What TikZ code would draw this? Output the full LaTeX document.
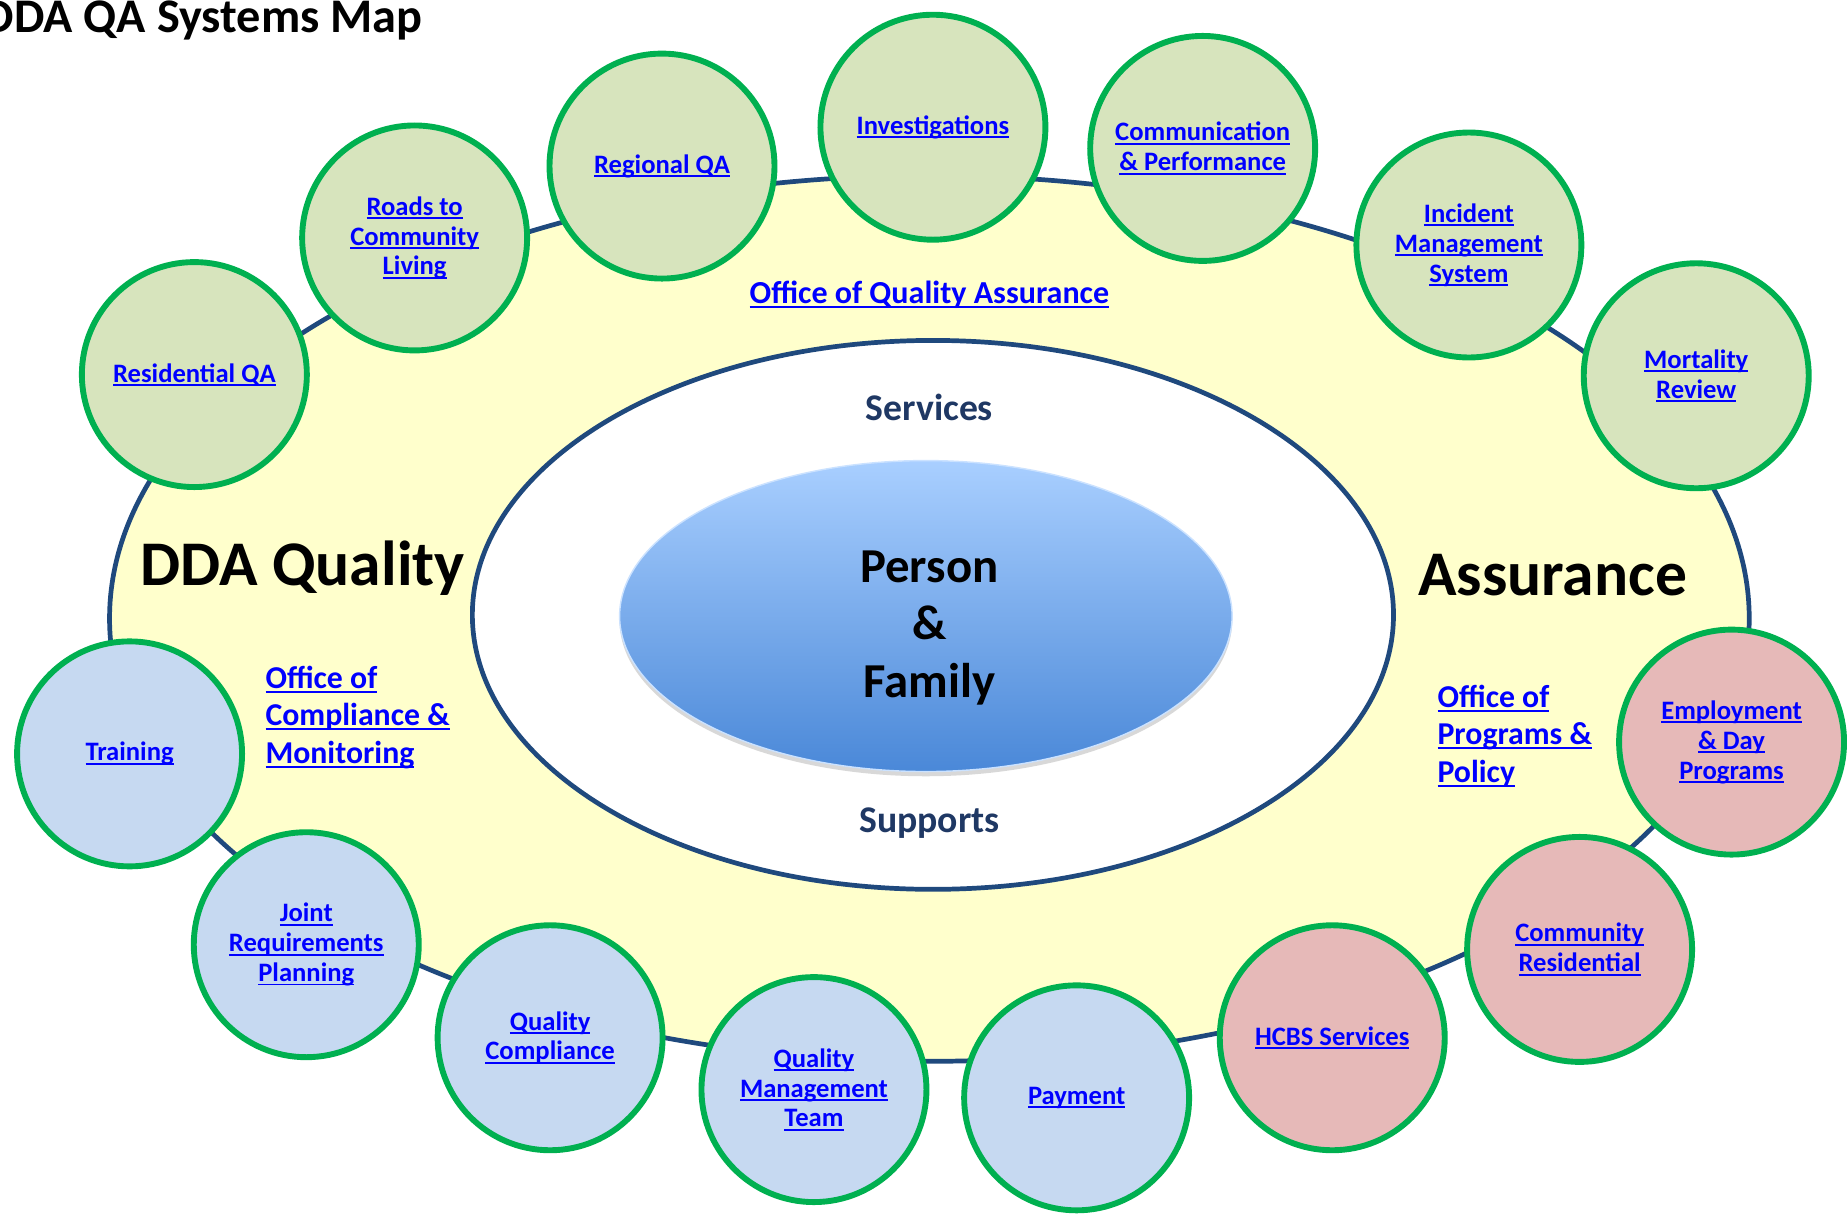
\documentclass[tikz,border=0pt]{standalone}
\usepackage{fontspec}
\setmainfont{Carlito}
\usetikzlibrary{shapes.geometric,shadows}
\definecolor{qyel}{HTML}{FFFFCC}
\definecolor{qnavy}{HTML}{1F497D}
\definecolor{qgreen}{HTML}{00B050}
\definecolor{qgfill}{HTML}{D7E4BD}
\definecolor{qpfill}{HTML}{E6B9B8}
\definecolor{qbfill}{HTML}{C6D9F1}
\definecolor{qlink}{HTML}{0000FF}
\definecolor{qdark}{HTML}{1F3864}
\definecolor{qtop}{HTML}{A9CFFF}
\definecolor{qbot}{HTML}{4A88D8}
\newcommand\lnk[1]{\setbox0\hbox{#1}\rlap{\rule[-0.14em]{\wd0}{0.065em}}\box0}
\tikzset{
  unit/.style={circle, draw=qgreen, line width=2.5pt, minimum size=95.5pt, inner sep=0pt,
    align=center, text=qlink, font=\bfseries\fontsize{11.3pt}{12.7pt}\selectfont},
  gunit/.style={unit, fill=qgfill},
  punit/.style={unit, fill=qpfill},
  bunit/.style={unit, fill=qbfill},
  office/.style={text=qlink, inner sep=0pt, align=left, font=\bfseries\fontsize{13.5pt}{16pt}\selectfont},
  big/.style={inner sep=0pt, font=\bfseries\fontsize{27pt}{31pt}\selectfont},
  sublabel/.style={inner sep=0pt, text=qdark, font=\bfseries\fontsize{16pt}{19pt}\selectfont}
}
\begin{document}
\begin{tikzpicture}[x=0.5pt,y=-0.5pt]
\useasboundingbox (0,0) rectangle (1568,1031.5);
% outer ring
\node[ellipse, draw=qnavy, fill=qyel, line width=2pt, minimum width=696pt, minimum height=376pt, inner sep=0pt] (outer) at (789,525) {};
% inner white
\node[ellipse, draw=qnavy, fill=white, line width=2pt, minimum width=391pt, minimum height=233pt, inner sep=0pt] (inner) at (792,522) {};
% centre
\node[ellipse, draw=qtop!60!white, line width=0.6pt, top color=qtop, bottom color=qbot,
  minimum width=260pt, minimum height=132pt, inner sep=0pt,
  drop shadow={shadow xshift=0pt, shadow yshift=-2pt, opacity=0.3}] (pf) at (786,523) {};
\node[inner sep=0pt, align=center, font=\bfseries\fontsize{20.7pt}{24.3pt}\selectfont] (pftext) at (789,533) {Person\\\&\\Family};

% title
\node[anchor=base west, inner sep=0pt, font=\bfseries\fontsize{20.5pt}{25pt}\selectfont] (title) at (-14,28) {DDA QA Systems Map};

% labels
\node[big] (ddaq) at (257,482) {DDA Quality};
\node[big] (assur) at (1318,488) {Assurance};
\node[sublabel] (serv) at (789,346) {Services};
\node[sublabel] (supp) at (789,699) {Supports};
\node[inner sep=0pt, text=qlink, font=\bfseries\fontsize{13.6pt}{15pt}\selectfont] (oqa) at (789,250) {\lnk{Office of Quality Assurance}};
\node[office, anchor=west] (ocm) at (225,609) {\lnk{Office of}\\\lnk{Compliance \&}\\\lnk{Monitoring}};
\node[office, anchor=west] (opp) at (1220,625) {\lnk{Office of}\\\lnk{Programs \&}\\\lnk{Policy}};

% units
\node[gunit] (resqa) at (165,318) {\lnk{Residential QA}};
\node[gunit] (roads) at (352,202) {\lnk{Roads to}\\\lnk{Community}\\\lnk{Living}};
\node[gunit] (regqa) at (562,141) {\lnk{Regional QA}};
\node[gunit] (inv) at (792,108) {\lnk{Investigations}};
\node[gunit] (comm) at (1021,126) {\lnk{Communication}\\\lnk{\& Performance}};
\node[gunit] (ims) at (1247,208) {\lnk{Incident}\\\lnk{Management}\\\lnk{System}};
\node[gunit] (mort) at (1440,319) {\lnk{Mortality}\\\lnk{Review}};
\node[punit] (emp) at (1470,630) {\lnk{Employment}\\\lnk{\& Day}\\\lnk{Programs}};
\node[punit] (cres) at (1341,806) {\lnk{Community}\\\lnk{Residential}};
\node[punit] (hcbs) at (1131,881) {\lnk{HCBS Services}};
\node[bunit] (pay) at (914,932) {\lnk{Payment}};
\node[bunit] (qmt) at (691,925) {\lnk{Quality}\\\lnk{Management}\\\lnk{Team}};
\node[bunit] (qc) at (467,881) {\lnk{Quality}\\\lnk{Compliance}};
\node[bunit] (jrp) at (260,802) {\lnk{Joint}\\\lnk{Requirements}\\\lnk{Planning}};
\node[bunit] (train) at (110,640) {\lnk{Training}};
\end{tikzpicture}
\end{document}
